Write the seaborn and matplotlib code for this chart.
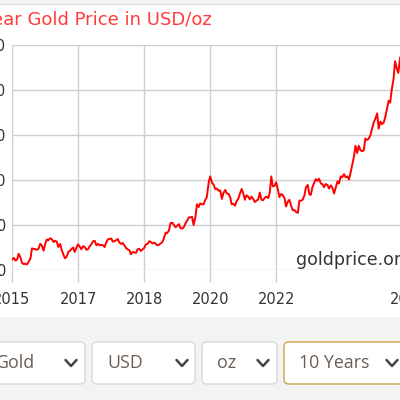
import matplotlib
matplotlib.use("Agg")
import matplotlib.pyplot as plt
from matplotlib.patches import FancyBboxPatch, Rectangle
from matplotlib.lines import Line2D
import pandas as pd
import seaborn as sns

# gold price in USD/oz, 1st and 15th of each month, Jul 2015 .. Jul 2025
p2015 = [1168, 1147, 1090, 1115, 1135, 1105, 1115, 1180, 1140, 1080, 1065, 1070]
p2016 = [1062, 1090, 1128, 1240, 1235, 1232, 1225, 1235, 1290, 1275, 1215, 1285,
         1340, 1330, 1352, 1345, 1310, 1325, 1315, 1255, 1290, 1225, 1170, 1130]
p2017 = [1150, 1200, 1215, 1235, 1250, 1200, 1250, 1285, 1260, 1230, 1265, 1255,
         1225, 1230, 1265, 1285, 1320, 1325, 1275, 1290, 1275, 1280, 1275, 1255]
p2018 = [1310, 1340, 1345, 1350, 1315, 1320, 1330, 1345, 1305, 1290, 1300, 1275,
         1245, 1230, 1220, 1175, 1200, 1195, 1190, 1230, 1235, 1210, 1230, 1245]
p2019 = [1285, 1290, 1320, 1310, 1295, 1305, 1290, 1275, 1280, 1295, 1310, 1350,
         1415, 1410, 1440, 1520, 1525, 1500, 1475, 1490, 1510, 1465, 1460, 1475]
p2020 = [1520, 1550, 1585, 1585, 1590, 1500, 1590, 1730, 1700, 1740, 1730, 1730,
         1780, 1810, 1975, 2040, 1970, 1950, 1900, 1905, 1880, 1885, 1790, 1855]
p2021 = [1890, 1850, 1845, 1810, 1730, 1735, 1715, 1765, 1790, 1845, 1900, 1855,
         1780, 1830, 1815, 1785, 1815, 1790, 1755, 1770, 1785, 1860, 1780, 1775]
p2022 = [1805, 1815, 1800, 1860, 2040, 1930, 1935, 1975, 1895, 1810, 1845, 1830,
         1800, 1705, 1760, 1780, 1710, 1665, 1665, 1645, 1635, 1770, 1770, 1780]
p2023 = [1830, 1920, 1945, 1840, 1835, 1920, 1970, 2010, 1990, 2015, 1960, 1955,
         1920, 1955, 1945, 1905, 1940, 1915, 1850, 1910, 1985, 1960, 2040, 2030]
p2024 = [2065, 2030, 2040, 2005, 2080, 2160, 2260, 2380, 2300, 2380, 2330, 2320,
         2330, 2460, 2445, 2460, 2500, 2570, 2640, 2680, 2740, 2570, 2650, 2620]
p2025 = [2640, 2700, 2800, 2880, 2860, 3000, 3120, 3320, 3240, 3190, 3360, 3400,
         3340, 3340, 3380, 3350]

prices = p2015 + p2016 + p2017 + p2018 + p2019 + p2020 + p2021 + p2022 + p2023 + p2024 + p2025
dates = pd.date_range("2015-07-01", periods=len(prices), freq="SMS")
df = pd.DataFrame({"date": dates, "price": prices})

tick_dates = ["2015-08-15", "2017-04-15", "2018-12-15", "2020-08-15", "2022-04-15", "2025-08-15"]
tick_labels = ["2015", "2017", "2018", "2020", "2022", "2025"]
y_ticks = [1000, 1500, 2000, 2500, 3000, 3500]

W, H = 400, 400
fig = plt.figure(figsize=(4, 4), dpi=100)
fig.patch.set_facecolor("#f3f3f3")

# white chart panel and top strip
fig.add_artist(Rectangle((0, 1 - 317 / H), 1, (317 - 5) / H, transform=fig.transFigure,
                         facecolor="white", edgecolor="none", zorder=0))
fig.add_artist(Line2D([0, 1], [1 - 4 / H, 1 - 4 / H], transform=fig.transFigure,
                      color="#dddddd", lw=1))

ax = fig.add_axes([12 / W, 1 - 270 / H, 408 / W, 225 / H])
ax.set_facecolor("none")
sns.lineplot(data=df, x="date", y="price", ax=ax, color="#ff0000", linewidth=1.4)

ax.set_xlim(pd.Timestamp("2015-08-15"), pd.Timestamp("2025-12-01"))
ax.set_ylim(1000, 3500)
ax.set_xticks(pd.to_datetime(tick_dates))
ax.set_xticklabels(tick_labels)
ax.set_yticks(y_ticks)
ax.set_yticklabels([str(v) for v in y_ticks])
ax.grid(True, color="#cfcfcf", linewidth=1)
ax.set_axisbelow(True)
for s in ax.spines.values():
    s.set_visible(False)
ax.tick_params(axis="x", length=8.6, width=1, color="#cfcfcf", pad=7,
               labelsize=10.5, labelcolor="#333333")
ax.tick_params(axis="y", length=0, pad=4, labelsize=10.5, labelcolor="#333333")
ax.set_xlabel("")
ax.set_ylabel("")

fig.text(212 / W, 1 - 20 / H, "10 Year Gold Price in USD/oz", ha="right", va="center",
         color="#ff3b3b", fontsize=13)
fig.text(296 / W, 1 - 260 / H, "goldprice.org", ha="left", va="center",
         color="#333333", fontsize=12.5)

# dropdown controls
boxes = [(-40, 85, "Gold", 35, 71, "#d9d9d9"),
         (92, 195, "USD", 107, 182, "#d9d9d9"),
         (202, 277, "oz", 217, 263, "#d9d9d9"),
         (284, 440, "10 Years", 299, 392, "#c9a44c")]
for x0, x1, label, tx, cx, ec in boxes:
    fig.add_artist(FancyBboxPatch((x0 / W, 1 - 384 / H), (x1 - x0) / W, 42 / H,
                                  boxstyle="round,pad=0,rounding_size=0.012",
                                  transform=fig.transFigure, facecolor="white",
                                  edgecolor=ec, lw=1))
    ha = "right" if label == "Gold" else "left"
    fig.text(tx / W, 1 - 363 / H, label, ha=ha, va="center",
             color="#6b5d52", fontsize=12.8, family="Open Sans")
    fig.add_artist(Line2D([(cx - 5.5) / W, cx / W, (cx + 5.5) / W],
                          [1 - 360 / H, 1 - 366 / H, 1 - 360 / H],
                          transform=fig.transFigure, color="#444444", lw=1.8,
                          solid_capstyle="round", solid_joinstyle="round"))

fig.savefig("out.png", dpi=100)
